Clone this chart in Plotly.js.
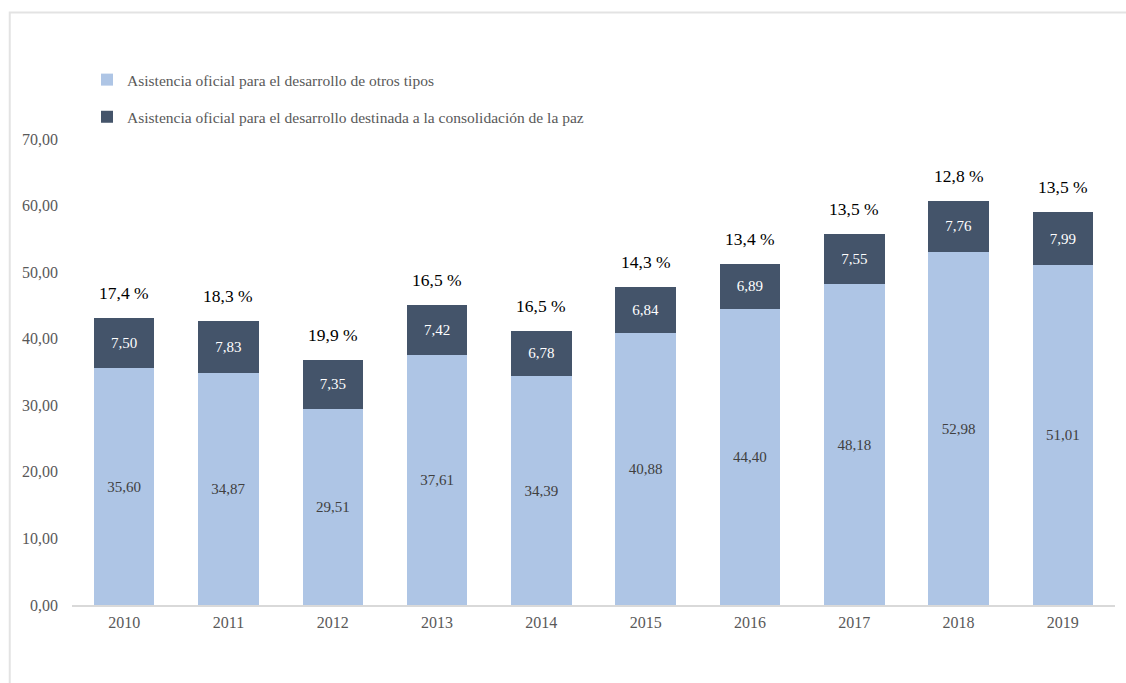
<!DOCTYPE html>
<html>
<head>
<meta charset="utf-8">
<script src="https://cdn.plot.ly/plotly-3.0.1.min.js"></script>
<style>html,body{margin:0;padding:0;background:#fff;}#chart{width:1126px;height:683px;}</style>
</head>
<body>
<div id="chart"></div>
<script>
var years = ["2010","2011","2012","2013","2014","2015","2016","2017","2018","2019"];
var otros = [35.60, 34.87, 29.51, 37.61, 34.39, 40.88, 44.40, 48.18, 52.98, 51.01];
var paz = [7.50, 7.83, 7.35, 7.42, 6.78, 6.84, 6.89, 7.55, 7.76, 7.99];
var pct = [17.4, 18.3, 19.9, 16.5, 16.5, 14.3, 13.4, 13.5, 12.8, 13.5];
var serieNames = ["Asistencia oficial para el desarrollo de otros tipos",
                  "Asistencia oficial para el desarrollo destinada a la consolidación de la paz"];

var FONT = "Liberation Serif, Times New Roman, serif";

var traces = [
  {type:'bar', x:years, y:otros, name:serieNames[0], legendgroup:'a',
   marker:{color:'#aec5e5'}, texttemplate:'%{y:.2f}', textposition:'inside',
   insidetextanchor:'middle', constraintext:'none',
   textfont:{family:FONT, size:15, color:'#404040'}, hoverinfo:'x+y'},
  {type:'bar', x:years, y:paz, name:serieNames[1], legendgroup:'b',
   marker:{color:'#44546a'}, texttemplate:'%{y:.2f}', textposition:'inside',
   insidetextanchor:'middle', constraintext:'none',
   textfont:{family:FONT, size:15, color:'#ffffff'}, hoverinfo:'x+y'}
];

var annotations = years.map(function(yr, i){
  return {x:i, y:otros[i]+paz[i], xref:'x', yref:'y', yanchor:'middle', yshift:25,
    text: pct[i].toFixed(1).replace('.', ',') + ' %', showarrow:false,
    font:{family:FONT, size:17.5, color:'#000000'}};
});

var layout = {
  width:1126, height:683,
  margin:{l:72, r:11, t:139, b:78},
  paper_bgcolor:'#ffffff', plot_bgcolor:'#ffffff',
  font:{family:FONT, size:15, color:'#595959'},
  separators:',.',
  barmode:'stack', bargap:0.42,
  showlegend:true,
  legend:{x:0.0144, y:1.163, xanchor:'left', yanchor:'top', traceorder:'grouped',
    tracegroupgap:14, font:{family:FONT, size:15.5, color:'#595959'},
    bgcolor:'rgba(0,0,0,0)'},
  xaxis:{type:'category', range:[-0.5, 9.5], showline:true, linecolor:'#d9d9d9', linewidth:2,
    showgrid:false, zeroline:false, ticks:'', ticklabelstandoff:2,
    tickfont:{family:FONT, size:16, color:'#595959'}},
  yaxis:{range:[0,70], dtick:10, tickformat:'.2f', showline:false, showgrid:false,
    zeroline:false, ticks:'', ticklabelstandoff:13,
    tickfont:{family:FONT, size:16, color:'#595959'}},
  annotations:annotations,
  shapes:[{type:'rect', xref:'paper', yref:'paper', x0:-0.0597, x1:1.2, y0:-0.5, y1:1.2715,
    line:{color:'#e3e3e3', width:2}, fillcolor:'rgba(0,0,0,0)', layer:'below'}]
};

Plotly.newPlot('chart', traces, layout, {displayModeBar:false});
</script>
</body>
</html>
